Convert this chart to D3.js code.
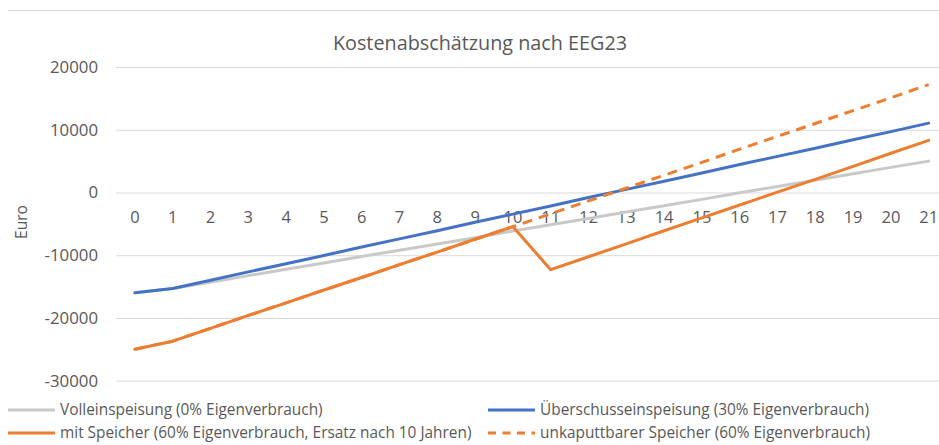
<!DOCTYPE html>
<html>
<head>
<meta charset="utf-8">
<script src="https://cdn.jsdelivr.net/npm/d3@7"></script>
<style>
  html, body { margin: 0; padding: 0; background: #ffffff; }
  svg { display: block; }
  text { font-family: "Open Sans", "Noto Sans", sans-serif; fill: #595959; }
</style>
</head>
<body>
<svg id="chart" width="939" height="445"></svg>
<script>
// ---- data ----
const title = "Kostenabschätzung nach EEG23";
const yAxisTitle = "Euro";
const years = [0,1,2,3,4,5,6,7,8,9,10,11,12,13,14,15,16,17,18,19,20,21];
const yTicks = [-30000, -20000, -10000, 0, 10000, 20000];

const seriesNames = [
  "Volleinspeisung (0% Eigenverbrauch)",
  "Überschusseinspeisung (30% Eigenverbrauch)",
  "mit Speicher (60% Eigenverbrauch, Ersatz nach 10 Jahren)",
  "unkaputtbarer Speicher (60% Eigenverbrauch)"
];
const volleinspeisung = [-16000,-15300,-14300,-13250,-12250,-11250,-10200,-9200,-8200,-7200,-6150,-5150,-4150,-3100,-2100,-1100,-50,950,1950,3000,4000,5000];
const ueberschuss = [-16000,-15300,-14000,-12650,-11350,-10050,-8700,-7400,-6100,-4750,-3450,-2150,-800,500,1800,3100,4450,5750,7050,8400,9700,11050];
const mitSpeicher = [-25000,-23700,-21650,-19600,-17600,-15550,-13550,-11500,-9500,-7450,-5450,-12300,-10250,-8200,-6100,-4050,-2000,50,2100,4150,6250,8300];
const unkaputtbar = [-25000,-23700,-21650,-19600,-17600,-15550,-13550,-11500,-9500,-7450,-5450,-3400,-1350,700,2750,4800,6900,8950,11000,13050,15100,17200];

// ---- styles ----
const colors = ["#c9c9c9", "#4472c4", "#ed7d31", "#ed7d31"];
const dashes = [null, null, null, "10,7"];
const seriesValues = [volleinspeisung, ueberschuss, mitSpeicher, unkaputtbar];

const svg = d3.select("#chart");

// top border
svg.append("line").attr("x1", 8).attr("x2", 939).attr("y1", 10.5).attr("y2", 10.5)
  .attr("stroke", "#d9d9d9").attr("stroke-width", 1);

const x = d3.scaleBand().domain(years).range([116, 947.6]).paddingInner(0).paddingOuter(0);
const y = d3.scaleLinear().domain([-30000, 20000]).range([380.7, 67]);
const cx = d => x(d) + x.bandwidth() / 2;

// title
svg.append("text").attr("x", 480).attr("y", 50).attr("text-anchor", "middle")
  .attr("font-size", 19.8).text(title);

// gridlines + y labels
const gAxisY = svg.append("g").attr("transform", "translate(116,0)")
  .call(d3.axisLeft(y).tickValues(yTicks).tickSize(-(939 - 116)).tickPadding(18).tickFormat(d => String(d)));
gAxisY.select(".domain").remove();
gAxisY.selectAll(".tick line").attr("stroke", "#d9d9d9").attr("stroke-width", 1);
gAxisY.selectAll(".tick text").attr("font-size", 16.8).attr("fill", "#595959")
  .style("font-family", "'Open Sans', sans-serif");

// x axis labels at zero line
const gAxisX = svg.append("g").attr("transform", `translate(0,${y(0)})`)
  .call(d3.axisBottom(x).tickSize(0).tickPadding(19));
gAxisX.select(".domain").remove();
gAxisX.selectAll(".tick text").attr("font-size", 16.5).attr("fill", "#595959")
  .style("font-family", "'Open Sans', sans-serif");

// y axis title
svg.append("text").attr("transform", "translate(27,222) rotate(-90)")
  .attr("text-anchor", "middle").attr("font-size", 15.5).text(yAxisTitle);

// lines
const line = d3.line().x((d, i) => cx(years[i])).y(d => y(d));
seriesValues.forEach((vals, k) => {
  svg.append("path").datum(vals)
    .attr("d", line)
    .attr("fill", "none")
    .attr("stroke", colors[k])
    .attr("stroke-width", 3)
    .attr("stroke-linejoin", "round")
    .attr("stroke-linecap", dashes[k] ? "butt" : "round")
    .attr("stroke-dasharray", dashes[k]);
});

// legend
const legendPos = [[8, 410], [488, 410], [8, 433], [488, 433]];
seriesNames.forEach((name, k) => {
  const [lx, ly] = legendPos[k];
  svg.append("line").attr("x1", lx).attr("x2", lx + 47).attr("y1", ly).attr("y2", ly)
    .attr("stroke", colors[k]).attr("stroke-width", 3)
    .attr("stroke-dasharray", dashes[k] ? "8,6.5" : null);
  svg.append("text").attr("x", lx + 52).attr("y", ly).attr("dy", "0.35em")
    .attr("font-size", 15.4).text(name);
});
</script>
</body>
</html>
